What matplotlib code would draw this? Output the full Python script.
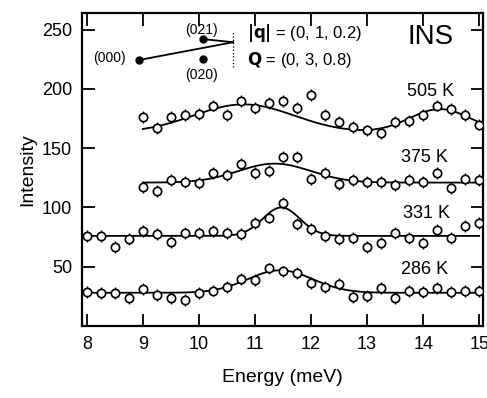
import matplotlib
matplotlib.use("Agg")
import matplotlib.pyplot as plt
import numpy as np

plt.rcParams['font.family'] = ['Liberation Sans', 'DejaVu Sans']

# Energy grids (meV)
energia_larga = np.arange(8.0, 15.01, 0.25)   # 286 K y 331 K
energia_corta = np.arange(9.0, 15.01, 0.25)   # 375 K y 505 K

# Intensidades
i_286 = [28.4, 27.5, 27.5, 23.3, 30.9, 26.1, 23.3, 21.9, 27.5, 29.9, 33.2, 39.4, 38.5,
         48.5, 46.0, 44.5, 36.3, 33.2, 35.7, 24.7, 25.6, 32.3, 23.3, 29.5, 28.9, 31.8,
         28.9, 29.5, 29.2]
i_331 = [75.9, 75.9, 66.9, 73.2, 80.4, 77.4, 70.6, 78.7, 78.7, 80.4, 78.7, 77.6, 87.2,
         91.5, 104.0, 86.0, 81.9, 75.9, 73.2, 74.5, 66.9, 70.3, 78.2, 74.0, 70.3, 81.0,
         74.5, 84.4, 87.2]
i_375 = [117.5, 114.2, 123.2, 121.3, 121.0, 128.9, 127.4, 136.7, 129.2, 131.0, 142.3,
         142.3, 124.0, 128.9, 119.8, 123.2, 121.3, 121.3, 119.0, 123.2, 121.3, 128.9,
         116.2, 124.0, 123.2]
i_505 = [176, 167, 176, 178, 179, 186, 178, 190, 184, 188, 190, 184, 195, 178, 172, 168,
         165, 163, 172, 173, 178, 186, 183, 178, 170]
error = 5.0

# Parametros de los ajustes gaussianos (fondo, [(centro, altura, sigma), ...])
ajuste_286 = (28.0, [(11.45, 19.0, 0.58)])
ajuste_331 = (76.0, [(11.47, 24.0, 0.33)])
ajuste_375 = (121.0, [(11.35, 16.0, 0.65)])
ajuste_505 = (163.0, [(10.8, 24.0, 0.9), (14.3, 20.0, 0.55)])

etiquetas = ['286 K', '331 K', '375 K', '505 K']


def curva(e, ajuste):
    fondo, picos = ajuste
    y = np.full_like(e, fondo)
    for c, a, s in picos:
        y = y + a * np.exp(-(e - c) ** 2 / (2 * s ** 2))
    return y


fig = plt.figure(figsize=(4.87, 3.98), dpi=100)
ax = fig.add_axes([0.168, 0.181, 0.824, 0.786])

series = [(energia_larga, i_286, ajuste_286),
          (energia_larga, i_331, ajuste_331),
          (energia_corta, i_375, ajuste_375),
          (energia_corta, i_505, ajuste_505)]

for e, datos, ajuste in series:
    ax.errorbar(e, datos, yerr=error, fmt='o', ms=6, mfc='white', mec='black',
                mew=1.2, ecolor='black', elinewidth=1.0, capsize=0, zorder=3)
    ef = np.linspace(e[0], e[-1], 300)
    ax.plot(ef, curva(ef, ajuste), color='black', lw=1.3, zorder=2)

ax.set_xlim(7.91, 15.07)
ax.set_ylim(0, 264)
ax.set_xticks(range(8, 16))
ax.set_yticks([50, 100, 150, 200, 250])
ax.tick_params(direction='in', length=9, width=1.3, top=True, right=True,
               labelsize=13, pad=7)
for s in ax.spines.values():
    s.set_linewidth(1.6)

ax.set_xlabel('Energy (meV)', fontsize=14, labelpad=12)
ax.set_ylabel('Intensity', fontsize=14, labelpad=4)

# Etiquetas de temperatura
pos_etiquetas = [(0.855, 0.179), (0.860, 0.361), (0.855, 0.540), (0.868, 0.751)]
for txt, (px, py) in zip(etiquetas, pos_etiquetas):
    ax.text(px, py, txt, transform=ax.transAxes, fontsize=13, ha='center', va='center')

ax.text(0.868, 0.923, 'INS', transform=ax.transAxes, fontsize=20, ha='center', va='center')
ax.text(0.411, 0.936, r'$\mathbf{|q|}$ = (0, 1, 0.2)', transform=ax.transAxes,
        fontsize=12, ha='left', va='center')
ax.text(0.411, 0.850, r'$\mathbf{Q}$ = (0, 3, 0.8)', transform=ax.transAxes,
        fontsize=12, ha='left', va='center')

# Esquema de vectores
tr = ax.transAxes
ax.plot([0.142, 0.377], [0.850, 0.907], color='black', lw=1.3, transform=tr)
ax.plot([0.302, 0.377], [0.917, 0.907], color='black', lw=1.3, transform=tr)
ax.plot([0.142, 0.302, 0.302], [0.850, 0.917, 0.853], 'o', color='black', ms=5,
        transform=tr)
ax.plot([0.377, 0.377], [0.827, 0.939], color='black', lw=0.9, ls=':', transform=tr)
ax.text(0.070, 0.856, '(000)', transform=tr, fontsize=10, ha='center', va='center')
ax.text(0.299, 0.946, '(021)', transform=tr, fontsize=10, ha='center', va='center')
ax.text(0.299, 0.802, '(020)', transform=tr, fontsize=10, ha='center', va='center')

fig.savefig('out.png', dpi=100)
plt.close(fig)
